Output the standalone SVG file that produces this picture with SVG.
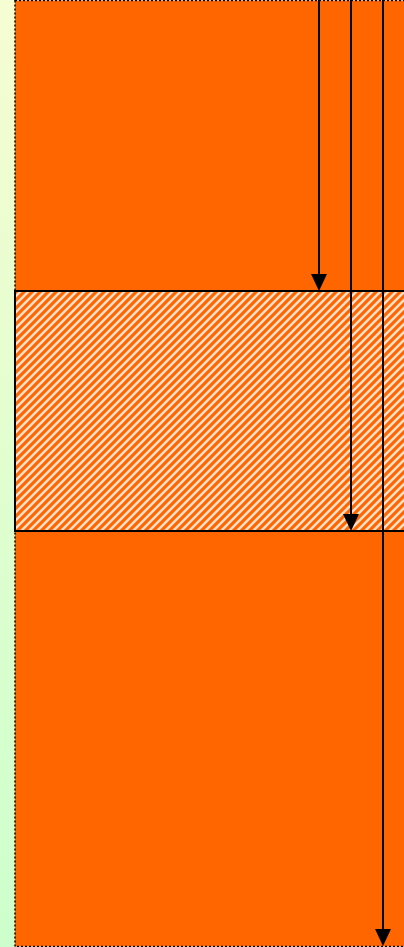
<svg xmlns="http://www.w3.org/2000/svg" width="404" height="947" viewBox="0 0 404 947">
<defs>
<linearGradient id="bg" x1="0" y1="0" x2="0" y2="1">
<stop offset="0" stop-color="#f6fdd2"/>
<stop offset="1" stop-color="#ccffcc"/>
</linearGradient>
<pattern id="hatch" width="8" height="8" patternUnits="userSpaceOnUse">
<rect width="8" height="8" fill="#ff6600"/>
<path d="M-2,2 L2,-2 M0,8 L8,0 M6,10 L10,6" stroke="#fff6ee" stroke-width="2.5" opacity="0.85"/>
</pattern>
<style>
.conn{stroke:#000;stroke-width:2;fill:none}
.head{fill:#000}
</style>
</defs>
<rect width="404" height="947" fill="url(#bg)"/>
<g id="outer">
<rect x="15" y="0.5" width="395" height="946" fill="#ff6600" stroke="#000" stroke-width="1.5" stroke-dasharray="2,2"/>
</g>
<g id="band">
<rect x="15" y="291" width="395" height="240" fill="url(#hatch)" stroke="#000" stroke-width="2"/>
</g>
<g id="connectors">
<line class="conn" x1="319" y1="0" x2="319" y2="280"/>
<line class="conn" x1="351" y1="0" x2="351" y2="520"/>
<line class="conn" x1="383" y1="0" x2="383" y2="935"/>
<path class="head" d="M311,274 L327,274 L319,291 Z"/>
<path class="head" d="M343,514 L359,514 L351,531 Z"/>
<path class="head" d="M375,929 L391,929 L383,946 Z"/>
</g>
</svg>
